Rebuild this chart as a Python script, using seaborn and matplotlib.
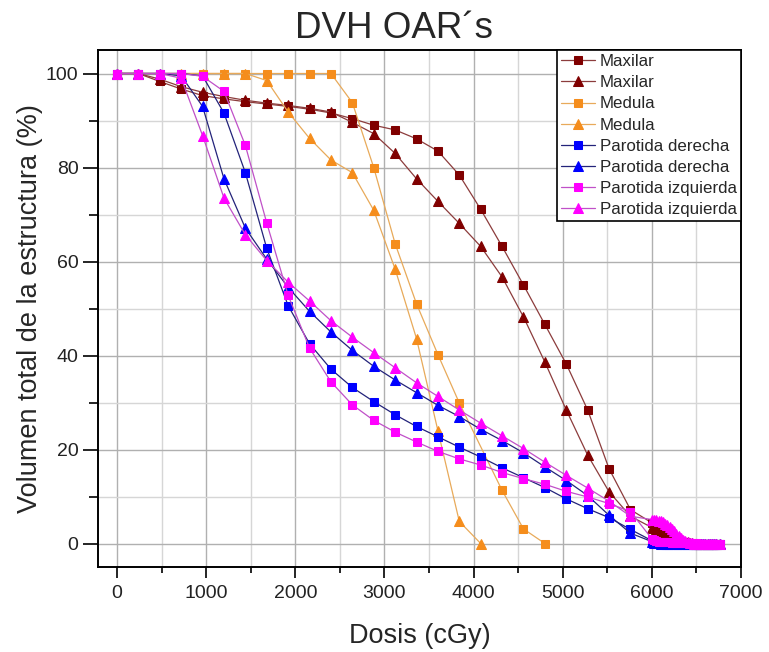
import matplotlib
matplotlib.use("Agg")
import matplotlib.pyplot as plt
import seaborn as sns
from matplotlib.ticker import MultipleLocator

# Dosis (cGy) de cada punto del DVH
dosis = [0, 240, 480, 720, 960, 1200, 1440, 1680, 1920, 2160, 2400, 2640, 2880,
         3120, 3360, 3600, 3840, 4080, 4320, 4560, 4800, 5040, 5280, 5520, 5760]
# tramo final, muy denso
dosis_cola = [6000, 6025, 6050, 6075, 6100, 6125, 6150, 6175, 6200, 6225, 6250,
              6275, 6300, 6325, 6350, 6375, 6400, 6425, 6450, 6475, 6500,
              6525, 6550, 6575, 6600, 6625, 6650, 6675, 6700, 6725, 6760]

# Maxilar
maxilar_c = [100, 100, 98.3, 96.7, 95.3, 94.6, 94.0, 93.5, 93.0, 92.4, 91.6, 90.4,
             89.0, 88.0, 86.1, 83.5, 78.4, 71.1, 63.2, 55.0, 46.6, 38.2, 28.4, 15.9, 7.2]
maxilar_c_cola = [4.4, 4.1, 3.8, 3.5, 3.2, 2.9, 2.6, 2.3, 2.0, 1.7, 1.4,
                  1.1, 0.8, 0.5, 0.3, 0.15, 0.05, 0, 0, 0, 0,
                  0, 0, 0, 0, 0, 0, 0, 0, 0, 0]
maxilar_t = [100, 100, 98.8, 97.2, 96.0, 95.1, 94.3, 93.7, 93.2, 92.6, 91.8, 89.6,
             87.2, 83.0, 77.6, 72.8, 68.1, 63.2, 56.7, 48.2, 38.6, 28.4, 18.8, 11.0, 5.8]
maxilar_t_cola = [3.4, 3.2, 3.0, 2.8, 2.6, 2.4, 2.2, 2.0, 1.8, 1.6, 1.4,
                  1.2, 1.0, 0.8, 0.6, 0.4, 0.25, 0.1, 0.05, 0, 0,
                  0, 0, 0, 0, 0, 0, 0, 0, 0, 0]

# Medula
medula_c_dosis = [0, 240, 480, 720, 960, 1200, 1440, 1680, 1920, 2160, 2400, 2640,
                  2880, 3120, 3360, 3600, 3840, 4320, 4560, 4800]
medula_c = [100, 100, 100, 100, 100, 100, 100, 100, 100, 100, 100, 93.8,
            80.0, 63.8, 51.0, 40.2, 29.9, 11.3, 3.1, 0]
medula_t_dosis = [0, 240, 480, 720, 960, 1200, 1440, 1680, 1920, 2160, 2400, 2640,
                  2880, 3120, 3360, 3600, 3840, 4080]
medula_t = [100, 100, 100, 100, 100, 100, 100, 98.5, 91.8, 86.2, 81.6, 78.9,
            70.9, 58.4, 43.6, 24.0, 4.7, 0]

# Parotida derecha
pd_c = [100, 100, 100, 100, 99.5, 91.6, 78.9, 62.8, 50.6, 42.5, 37.1, 33.2, 30.2,
        27.4, 24.9, 22.7, 20.5, 18.4, 16.1, 14.0, 11.9, 9.5, 7.4, 5.5, 3.0]
pd_c_cola = [0.6, 0.4, 0.3, 0.2, 0.15, 0.1, 0.05, 0, 0, 0, 0,
             0, 0, 0, 0, 0, 0, 0, 0, 0, 0,
             0, 0, 0, 0, 0, 0, 0, 0, 0, 0]
pd_t = [100, 100, 100, 99.5, 93.0, 77.6, 67.1, 60.5, 54.5, 49.4, 45.0, 41.1, 37.7,
        34.8, 32.1, 29.4, 27.0, 24.3, 21.9, 19.3, 16.3, 13.4, 10.2, 6.0, 2.2]
pd_t_cola = [0.4, 0.2, 0.1, 0.05, 0, 0, 0, 0, 0, 0, 0,
             0, 0, 0, 0, 0, 0, 0, 0, 0, 0,
             0, 0, 0, 0, 0, 0, 0, 0, 0, 0]

# Parotida izquierda
pi_c = [100, 100, 100, 100, 99.4, 96.2, 84.7, 68.2, 52.8, 41.6, 34.4, 29.5, 26.2,
        23.7, 21.6, 19.6, 18.0, 16.7, 15.1, 13.8, 12.6, 11.1, 9.9, 8.5, 6.8]
pi_c_cola = [1.0, 0.7, 0.5, 0.4, 0.35, 0.3, 0.3, 0.25, 0.25, 0.2, 0.2,
             0.2, 0.15, 0.15, 0.15, 0.1, 0.1, 0.1, 0.1, 0.05, 0.05,
             0, 0, 0, 0, 0, 0, 0, 0, 0, 0]
pi_t = [100, 100, 100, 99.0, 86.8, 73.5, 65.7, 60.2, 55.6, 51.6, 47.4, 43.9, 40.6,
        37.4, 34.2, 31.3, 28.4, 25.6, 22.9, 20.2, 17.3, 14.5, 11.8, 9.0, 5.8]
pi_t_cola = [5.1, 5.0, 4.95, 4.85, 4.7, 4.5, 4.2, 3.9, 3.5, 3.1, 2.6,
             2.1, 1.6, 1.2, 0.8, 0.5, 0.3, 0.15, 0.05, 0, 0,
             0, 0, 0, 0, 0, 0, 0, 0, 0, 0]

series = [
    ("Maxilar", dosis + dosis_cola, maxilar_c + maxilar_c_cola, "s", "#800000", "#8c3c3c"),
    ("Maxilar", dosis + dosis_cola, maxilar_t + maxilar_t_cola, "^", "#800000", "#8c3c3c"),
    ("Medula", medula_c_dosis, medula_c, "s", "#f58d1c", "#e8aa5a"),
    ("Medula", medula_t_dosis, medula_t, "^", "#f58d1c", "#e8aa5a"),
    ("Parotida derecha", dosis + dosis_cola, pd_c + pd_c_cola, "s", "#0000ff", "#23237a"),
    ("Parotida derecha", dosis + dosis_cola, pd_t + pd_t_cola, "^", "#0000ff", "#23237a"),
    ("Parotida izquierda", dosis + dosis_cola, pi_c + pi_c_cola, "s", "#ff00ff", "#c050c8"),
    ("Parotida izquierda", dosis + dosis_cola, pi_t + pi_t_cola, "^", "#ff00ff", "#c050c8"),
]

sns.set_style("whitegrid")
plt.rcParams['font.family'] = ['Liberation Sans', 'DejaVu Sans']

fig, ax = plt.subplots(figsize=(7.69, 6.52), dpi=100)
fig.subplots_adjust(left=98 / 769, right=741 / 769, top=1 - 50 / 652, bottom=1 - 567 / 652)

for nombre, x, y, marca, color, color_linea in series:
    sns.lineplot(x=x, y=y, ax=ax, sort=False, estimator=None, label=nombre,
                 color=color_linea, linewidth=0.9, marker=marca,
                 markersize=6.5 if marca == "^" else 5.5,
                 markerfacecolor=color, markeredgecolor=color)

ax.set_xlim(-213, 7000)
ax.set_ylim(-5, 105)
ax.xaxis.set_major_locator(MultipleLocator(1000))
ax.xaxis.set_minor_locator(MultipleLocator(500))
ax.yaxis.set_major_locator(MultipleLocator(20))
ax.yaxis.set_minor_locator(MultipleLocator(10))
ax.grid(which="major", color="#b0b0b0", linewidth=1.0)
ax.grid(which="minor", color="#d6d6d6", linewidth=1.0)
ax.set_axisbelow(True)

for s in ax.spines.values():
    s.set_color("black")
    s.set_linewidth(1.4)
ax.tick_params(which="both", direction="out", bottom=True, left=True, color="black",
               width=1.2, labelsize=14, colors="#222222")
ax.tick_params(axis="x", which="major", length=8, pad=5)
ax.tick_params(axis="x", which="minor", length=4)
ax.tick_params(axis="y", which="major", length=11, pad=3)
ax.tick_params(axis="y", which="minor", length=6.5)

ax.set_title("DVH OAR´s", fontsize=26.5, pad=9, x=0.46)
ax.set_xlabel("Dosis (cGy)", fontsize=19.5, labelpad=15)
ax.set_ylabel("Volumen total de la estructura (%)", fontsize=19.5, labelpad=2)

leg = ax.legend(loc="upper right", bbox_to_anchor=(1, 1), borderaxespad=0,
                fontsize=12.2, handlelength=2.0, labelspacing=0.36, borderpad=0.25,
                handletextpad=0.3, fancybox=False, framealpha=1, edgecolor="black")
leg.get_frame().set_linewidth(1.2)

plt.savefig("out.png", dpi=100)
